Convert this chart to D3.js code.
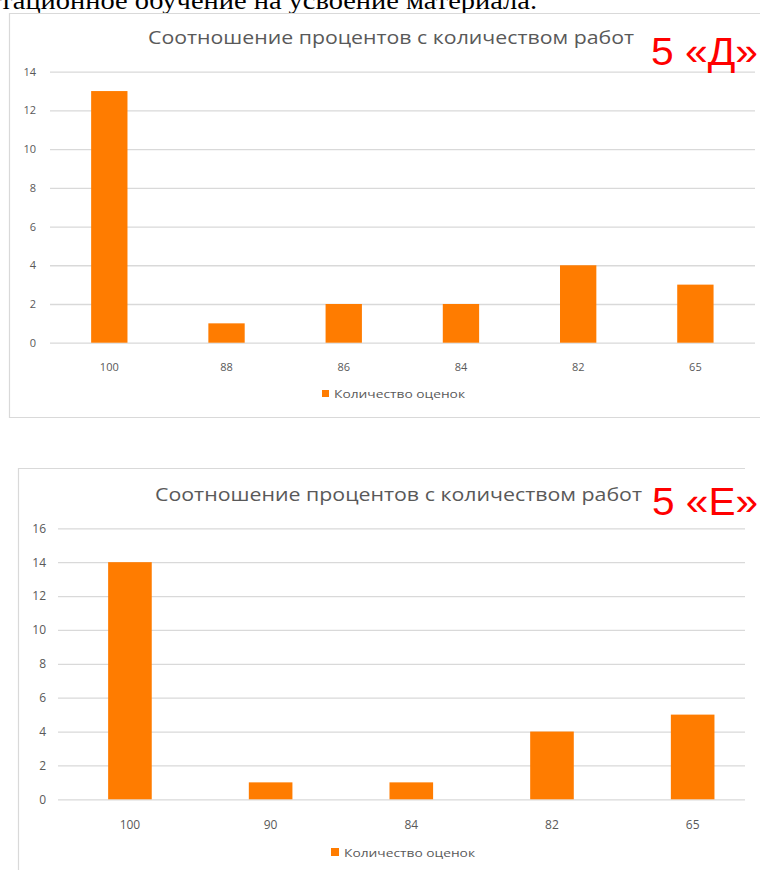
<!DOCTYPE html>
<html>
<head>
<meta charset="utf-8">
<script src="https://cdn.jsdelivr.net/npm/d3@7"></script>
<style>
  html, body { margin: 0; padding: 0; background: #fff; }
  svg { display: block; }
</style>
</head>
<body>
<svg id="page" width="760" height="870"></svg>
<script>
// data
var pageText = "тационное обучение на усвоение материала.";
var chartTitle = "Соотношение процентов с количеством работ";
var legendLabel = "Количество оценок";

var categoriesD = ["100", "88", "86", "84", "82", "65"];
var valuesD = [13, 1, 2, 2, 4, 3];
var ticksD = [0, 2, 4, 6, 8, 10, 12, 14];
var badgeD = "5 «Д»";

var categoriesE = ["100", "90", "84", "82", "65"];
var valuesE = [14, 1, 1, 4, 5];
var ticksE = [0, 2, 4, 6, 8, 10, 12, 14, 16];
var badgeE = "5 «Е»";

var svg = d3.select('#page');
var gray = '#595959', grid = '#d9d9d9', orange = '#ff7c00';

// cut-off line of the document text above the charts
svg.append('text')
    .attr('x', 0).attr('y', 9)
    .attr('textLength', 537).attr('lengthAdjust', 'spacingAndGlyphs')
    .style('font-family', '"Liberation Serif", "Times New Roman", serif')
    .style('font-size', '26px')
    .style('fill', '#000')
    .text(pageText);

function drawChart(o) {
    var g = svg.append('g');

    // frame
    g.append('path')
        .attr('d', 'M' + o.frame.right + ',' + o.frame.top + 'H' + o.frame.left +
            'V' + o.frame.bottom + (o.frame.closeBottom ? 'H' + o.frame.right : ''))
        .style('fill', 'none').style('stroke', grid).style('stroke-width', 1.2);

    var y = d3.scaleLinear().domain([0, d3.max(o.ticks)]).range(o.yRange);
    var x = d3.scaleBand().domain(o.categories).range(o.xRange)
        .paddingInner(0.69).paddingOuter(0.345);

    // gridlines + y labels via axis
    var yAxis = d3.axisLeft(y).tickValues(o.ticks)
        .tickSize(-(o.gridRight - o.gridLeft)).tickPadding(o.gridLeft - o.labelRight);
    var ya = g.append('g').attr('transform', 'translate(' + o.gridRight + ',0)')
        .call(d3.axisLeft(y).tickValues(o.ticks).tickSize(o.gridRight - o.gridLeft).tickFormat(''));
    ya.select('.domain').remove();
    ya.selectAll('line').style('stroke', grid).style('stroke-width', 1.3);

    var yl = g.append('g').attr('transform', 'translate(' + o.labelRight + ',0)')
        .call(d3.axisLeft(y).tickValues(o.ticks).tickSize(0).tickPadding(0));
    yl.select('.domain').remove();
    yl.selectAll('text').style('fill', gray)
        .style('font-family', '"Open Sans", sans-serif').style('font-size', o.tickSize + 'px');

    // bars
    g.selectAll('rect.bar').data(o.values).enter().append('rect')
        .attr('class', 'bar')
        .attr('x', function(d, i) { return x(o.categories[i]); })
        .attr('width', x.bandwidth())
        .attr('y', function(d) { return y(d); })
        .attr('height', function(d) { return y(0) - y(d); })
        .style('fill', orange);

    // x labels
    var xa = g.append('g').attr('transform', 'translate(0,' + o.xLabelY + ')')
        .call(d3.axisBottom(x).tickSize(0).tickPadding(0));
    xa.select('.domain').remove();
    xa.selectAll('text').style('fill', gray)
        .style('font-family', '"Open Sans", sans-serif').style('font-size', o.tickSize + 'px');

    // title
    g.append('text')
        .attr('x', o.title.x).attr('y', o.title.y)
        .attr('textLength', o.title.w).attr('lengthAdjust', 'spacingAndGlyphs')
        .style('font-family', '"Open Sans", sans-serif').style('font-size', o.title.size + 'px')
        .style('fill', gray)
        .text(chartTitle);

    // legend
    g.append('rect')
        .attr('x', o.legend.x).attr('y', o.legend.y - o.legend.box)
        .attr('width', o.legend.box).attr('height', o.legend.box)
        .style('fill', orange);
    g.append('text')
        .attr('x', o.legend.x + o.legend.box + 5).attr('y', o.legend.y + 1)
        .attr('textLength', o.legend.w).attr('lengthAdjust', 'spacingAndGlyphs')
        .style('font-family', '"Open Sans", sans-serif').style('font-size', o.legend.size + 'px')
        .style('fill', gray)
        .text(legendLabel);

    // red class label
    g.append('text')
        .attr('x', o.badge.x).attr('y', o.badge.y)
        .attr('textLength', o.badge.w).attr('lengthAdjust', 'spacingAndGlyphs')
        .style('font-family', '"Liberation Sans", Arial, sans-serif').style('font-size', '38px')
        .style('fill', '#ff0000')
        .text(o.badge.text);
}

drawChart({
    categories: categoriesD, values: valuesD, ticks: ticksD,
    frame: { left: 9.5, top: 13.5, right: 770, bottom: 417.5, closeBottom: true },
    yRange: [342.7, 71.7], xRange: [50.7, 754],
    gridLeft: 50, gridRight: 755, labelRight: 36,
    xLabelY: 363, tickSize: 11,
    title: { x: 148, y: 44, w: 486, size: 19 },
    legend: { x: 322, y: 397, box: 7, w: 131, size: 11.5 },
    badge: { x: 651, y: 65, w: 107, text: badgeD }
});

drawChart({
    categories: categoriesE, values: valuesE, ticks: ticksE,
    frame: { left: 18.5, top: 468.5, right: 745, bottom: 880, closeBottom: false },
    yRange: [799.3, 528.3], xRange: [59.6, 763],
    gridLeft: 58, gridRight: 745, labelRight: 46,
    xLabelY: 820, tickSize: 12,
    title: { x: 155, y: 501, w: 487, size: 19 },
    legend: { x: 331, y: 856, box: 8, w: 131, size: 11.5 },
    badge: { x: 652, y: 515, w: 106, text: badgeE }
});
</script>
</body>
</html>
